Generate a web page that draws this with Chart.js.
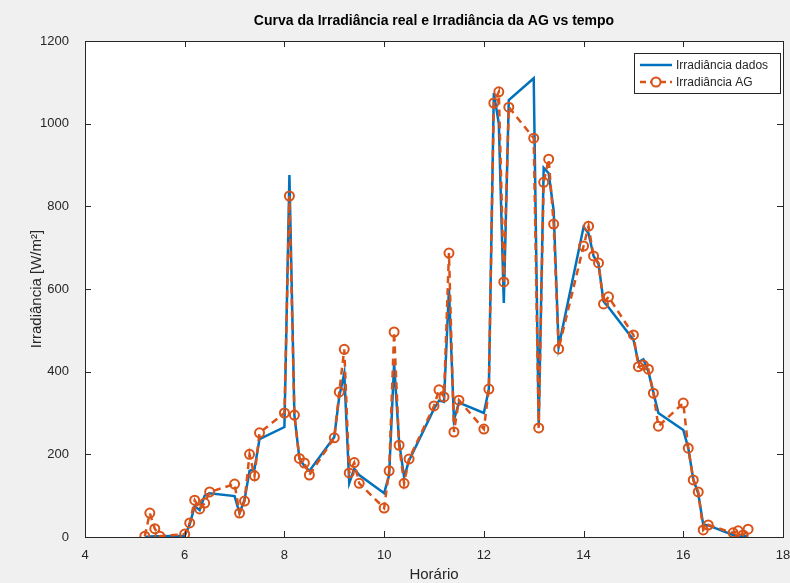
<!DOCTYPE html>
<html>
<head>
<meta charset="utf-8">
<script src="https://cdn.jsdelivr.net/npm/chart.js@4.4.1/dist/chart.umd.min.js"></script>
<style>
  html, body { margin: 0; padding: 0; background: #f0f0f0; }
  canvas { display: block; }
</style>
</head>
<body>
<canvas id="chart" width="790" height="583"></canvas>
<script>
// time of each sample (decimal hours)
const hours = [
  5.2, 5.3, 5.4, 5.5,
  6.0, 6.1, 6.2, 6.3, 6.4, 6.5,
  7.0, 7.1, 7.2, 7.3, 7.4, 7.5,
  8.0, 8.1, 8.2, 8.3, 8.4, 8.5,
  9.0, 9.1, 9.2, 9.3, 9.4, 9.5,
  10.0, 10.1, 10.2, 10.3, 10.4, 10.5,
  11.0, 11.1, 11.2, 11.3, 11.4, 11.5,
  12.0, 12.1, 12.2, 12.3, 12.4, 12.5,
  13.0, 13.1, 13.2, 13.3, 13.4, 13.5,
  14.0, 14.1, 14.2, 14.3, 14.4, 14.5,
  15.0, 15.1, 15.2, 15.3, 15.4, 15.5,
  16.0, 16.1, 16.2, 16.3, 16.4, 16.5,
  17.0, 17.1, 17.2, 17.3
];

// measured irradiance
const irrDados = [
  0, 1, 2, 2,
  3, 30, 75, 65, 100, 106,
  99, 58, 90, 160, 165, 237,
  266, 876, 295, 190, 172, 160,
  242, 340, 396, 130, 165, 150,
  106, 150, 420, 230, 145, 185,
  310, 330, 327, 600, 283, 325,
  300, 358, 1074, 1000, 566, 1057,
  1110, 270, 893, 880, 790, 460,
  750, 735, 680, 660, 570, 556,
  477, 423, 430, 400, 350, 300,
  259, 215, 140, 105, 30, 28,
  5, 3, 2, 3
];

// irradiance from the genetic algorithm
const irrAG = [
  2, 58, 20, 2,
  7, 34, 89, 68, 82, 109,
  128, 58, 87, 200, 148, 252,
  300, 825, 295, 190, 179, 150,
  240, 351, 454, 155, 180, 130,
  70, 160, 496, 222, 130, 189,
  317, 356, 339, 687, 254, 331,
  261, 358, 1050, 1077, 617, 1040,
  965, 264, 858, 914, 757, 455,
  704, 752, 680, 663, 564, 581,
  489, 412, 416, 406, 348, 268,
  324, 215, 138, 109, 17, 29,
  10, 15, 5, 19
];

const xTicks = [4, 6, 8, 10, 12, 14, 16, 18];
const yTicks = [0, 200, 400, 600, 800, 1000, 1200];

const BLUE = '#0072BD';
const ORANGE = '#D95319';
const AXIS = '#262626';
const FONT = '"Liberation Sans", Arial, sans-serif';

// matlab-ish figure: grey figure, white axes, box with inward ticks, legend inside
const matlabLook = {
  id: 'matlabLook',
  beforeDraw(chart) {
    const { ctx, chartArea: a } = chart;
    ctx.save();
    ctx.fillStyle = '#f0f0f0';
    ctx.fillRect(0, 0, chart.width, chart.height);
    ctx.fillStyle = '#ffffff';
    ctx.fillRect(a.left, a.top, a.right - a.left, a.bottom - a.top);
    ctx.restore();
  },
  afterDraw(chart) {
    const { ctx, chartArea: a, scales } = chart;
    ctx.save();
    ctx.strokeStyle = AXIS;
    ctx.lineWidth = 1;
    ctx.strokeRect(a.left + 0.5, a.top + 0.5, a.right - a.left, a.bottom - a.top);

    // inward ticks on all sides
    const tl = 6;
    ctx.beginPath();
    xTicks.forEach(v => {
      const px = Math.round(scales.x.getPixelForValue(v)) + 0.5;
      ctx.moveTo(px, a.bottom); ctx.lineTo(px, a.bottom - tl);
      ctx.moveTo(px, a.top); ctx.lineTo(px, a.top + tl);
    });
    yTicks.forEach(v => {
      const py = Math.round(scales.y.getPixelForValue(v)) + 0.5;
      ctx.moveTo(a.left, py); ctx.lineTo(a.left + tl, py);
      ctx.moveTo(a.right, py); ctx.lineTo(a.right - tl, py);
    });
    ctx.stroke();

    // title
    ctx.fillStyle = '#000';
    ctx.font = 'bold 14px ' + FONT;
    ctx.textAlign = 'center';
    ctx.textBaseline = 'middle';
    ctx.fillText('Curva da Irradiância real e Irradiância da AG vs tempo', (a.left + a.right) / 2, 21);

    // axis labels
    ctx.fillStyle = AXIS;
    ctx.font = '15px ' + FONT;
    ctx.fillText('Horário', (a.left + a.right) / 2, 575);
    ctx.save();
    ctx.translate(37, (a.top + a.bottom) / 2);
    ctx.rotate(-Math.PI / 2);
    ctx.fillText('Irradiância [W/m²]', 0, 0);
    ctx.restore();

    // legend box
    const lx = a.right - 149, ly = a.top + 12, lw = 146, lh = 40;
    ctx.fillStyle = '#fff';
    ctx.fillRect(lx, ly, lw, lh);
    ctx.strokeStyle = AXIS;
    ctx.strokeRect(lx + 0.5, ly + 0.5, lw, lh);
    const r1 = ly + 12, r2 = ly + 29;
    ctx.lineWidth = 2.5;
    ctx.strokeStyle = BLUE;
    ctx.beginPath(); ctx.moveTo(lx + 6, r1); ctx.lineTo(lx + 38, r1); ctx.stroke();
    ctx.strokeStyle = ORANGE;
    ctx.setLineDash([6, 4]);
    ctx.beginPath(); ctx.moveTo(lx + 6, r2); ctx.lineTo(lx + 38, r2); ctx.stroke();
    ctx.setLineDash([]);
    ctx.lineWidth = 2;
    ctx.fillStyle = '#fff';
    ctx.beginPath(); ctx.arc(lx + 22, r2, 4.5, 0, Math.PI * 2); ctx.fill(); ctx.stroke();
    ctx.fillStyle = AXIS;
    ctx.font = '12px ' + FONT;
    ctx.textAlign = 'left';
    ctx.fillText('Irradiância dados', lx + 42, r1 + 1);
    ctx.fillText('Irradiância AG', lx + 42, r2 + 1);
    ctx.restore();
  }
};

const ctx = document.getElementById('chart').getContext('2d');
const chart = new Chart(ctx, {
  type: 'line',
  data: {
    datasets: [
      {
        label: 'Irradiância dados',
        data: hours.map((h, i) => ({ x: h, y: irrDados[i] })),
        borderColor: BLUE,
        borderWidth: 2.5,
        pointRadius: 0,
        tension: 0,
        order: 2
      },
      {
        label: 'Irradiância AG',
        data: hours.map((h, i) => ({ x: h, y: irrAG[i] })),
        borderColor: ORANGE,
        borderWidth: 2.5,
        borderDash: [7, 5],
        pointRadius: 4.5,
        pointBorderWidth: 2,
        pointBorderColor: ORANGE,
        pointBackgroundColor: 'rgba(255,255,255,0)',
        tension: 0,
        order: 1
      }
    ]
  },
  options: {
    responsive: false,
    animation: false,
    layout: { padding: { top: 41, right: 0, left: 0, bottom: 0 } },
    plugins: {
      legend: { display: false },
      tooltip: { enabled: false },
      title: { display: false }
    },
    scales: {
      x: {
        type: 'linear',
        min: 4, max: 18,
        afterBuildTicks: s => { s.ticks = xTicks.map(v => ({ value: v })); },
        afterFit: s => { s.height = 46; s.paddingRight = 7; },
        grid: { display: false },
        border: { display: false },
        ticks: { color: AXIS, font: { family: FONT, size: 13 }, padding: 3, maxRotation: 0,
                 callback: v => String(v) }
      },
      y: {
        min: 0, max: 1200,
        afterBuildTicks: s => { s.ticks = yTicks.map(v => ({ value: v })); },
        afterFit: s => { s.width = 85; },
        grid: { display: false },
        border: { display: false },
        ticks: { color: AXIS, font: { family: FONT, size: 13 }, padding: 8,
                 callback: v => String(v) }
      }
    }
  },
  plugins: [matlabLook]
});
</script>
</body>
</html>
